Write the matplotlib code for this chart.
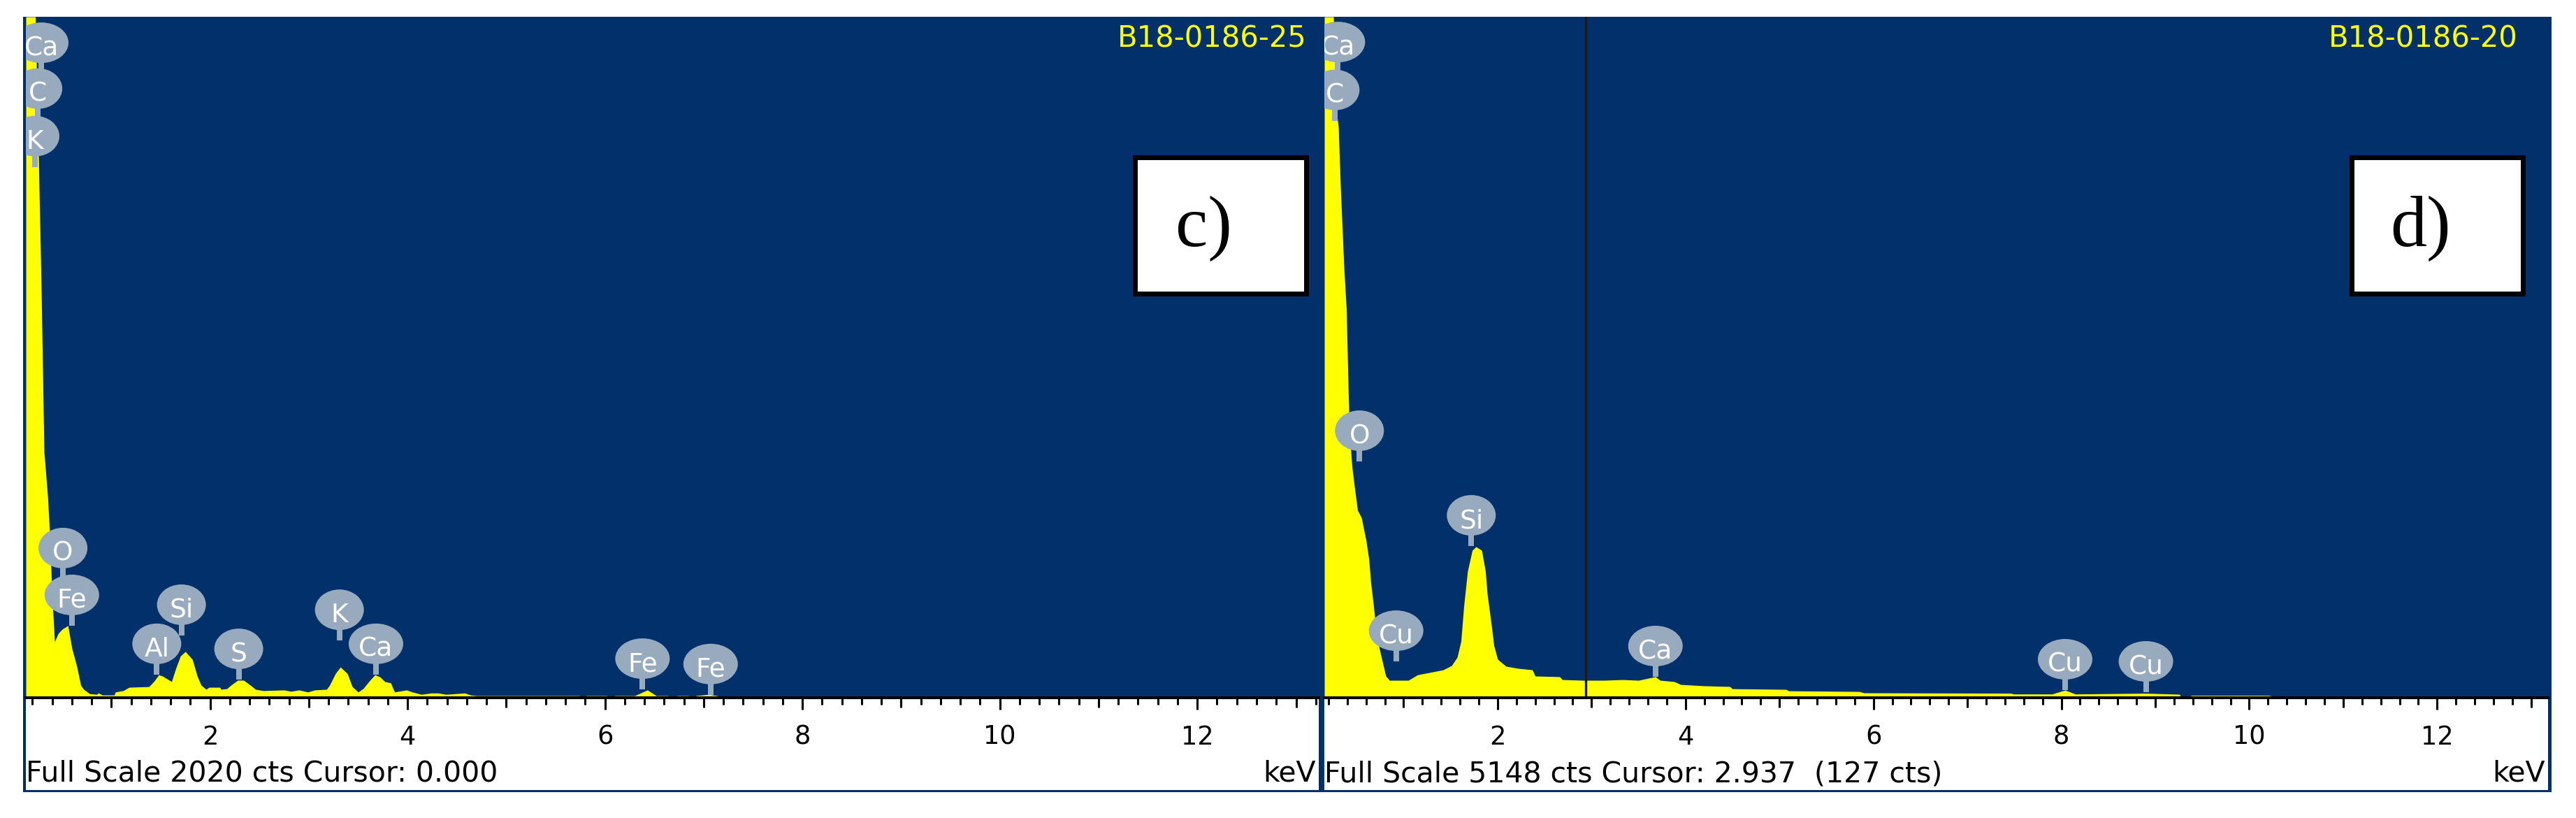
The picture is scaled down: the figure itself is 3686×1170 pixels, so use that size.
import matplotlib
matplotlib.use("Agg")
import matplotlib.pyplot as plt
import matplotlib.transforms as mtrans
from matplotlib.patches import Ellipse, Rectangle
from matplotlib.ticker import FixedLocator, MultipleLocator

# ── Spectrum c) : B18-0186-25, full scale 2020 cts ─────────────────────────
c_energy = [0.134, 0.230, 0.262, 0.290, 0.318, 0.354, 0.373, 0.400, 0.425, 0.460,
            0.500, 0.560, 0.600, 0.650, 0.690, 0.720, 0.780, 0.850, 0.870, 0.910,
            1.030, 1.040, 1.120, 1.180, 1.380, 1.430, 1.480, 1.520, 1.610, 1.650,
            1.700, 1.750, 1.820, 1.870, 1.910, 1.960, 1.990, 2.100, 2.110, 2.170,
            2.210, 2.280, 2.340, 2.410, 2.460, 2.540, 2.750, 2.820, 2.900, 2.990,
            3.060, 3.180, 3.210, 3.270, 3.320, 3.390, 3.440, 3.500, 3.550, 3.620,
            3.670, 3.720, 3.770, 3.830, 3.860, 3.870, 3.990, 4.050, 4.140, 4.240,
            4.310, 4.390, 4.580, 4.640, 4.700, 5.740, 5.750, 5.800, 5.810, 6.020,
            6.030, 6.090, 6.100, 6.300, 6.430, 6.520, 6.640, 6.650, 6.720, 6.730,
            6.850, 6.860, 6.910, 6.920, 7.050, 7.140, 7.150, 7.450, 7.460, 7.660,
            7.670, 7.810, 7.820, 9.000, 9.010, 9.200, 9.210, 10.600, 10.610, 10.800,
            10.810, 11.900, 11.910, 13.230]
c_counts = [2020, 2020, 1600, 1210, 730, 600, 500, 300, 166, 190,
            203, 214, 147, 93, 37, 25, 12, 10, 14, 8,
            8, 17, 21, 31, 33, 48, 68, 64, 48, 85,
            124, 137, 114, 64, 37, 25, 31, 31, 25, 27,
            37, 52, 52, 37, 25, 21, 23, 19, 23, 17,
            23, 25, 37, 72, 91, 72, 33, 17, 27, 52,
            68, 62, 48, 44, 23, 17, 23, 17, 10, 14,
            14, 10, 14, 8, 6, 6, 0, 0, 6, 6,
            0, 0, 6, 6, 23, 6, 6, 0, 0, 6,
            6, 0, 0, 6, 10, 6, 0, 0, 4, 4,
            0, 0, 4, 4, 0, 0, 4, 4, 0, 0,
            4, 4, 0, 0]
c_peak_names = ["Ca", "C", "K", "O", "Fe", "Al", "Si", "S", "K", "Ca", "Fe", "Fe"]
c_peak_energy = [0.29, 0.255, 0.226, 0.51, 0.60, 1.46, 1.71, 2.29, 3.31, 3.68, 6.38, 7.07]
c_label_counts = [1943, 1807, 1666, 444, 305, 160, 276, 145, 261, 160, 116, 100]

# ── Spectrum d) : B18-0186-20, full scale 5148 cts ─────────────────────────
d_energy = [0.156, 0.253, 0.283, 0.305, 0.327, 0.365, 0.390, 0.410, 0.424, 0.450,
            0.480, 0.510, 0.550, 0.600, 0.630, 0.650, 0.680, 0.700, 0.740, 0.780,
            0.810, 0.850, 1.050, 1.150, 1.270, 1.420, 1.510, 1.570, 1.610, 1.640,
            1.680, 1.730, 1.770, 1.830, 1.870, 1.890, 1.930, 1.960, 2.000, 2.090,
            2.220, 2.370, 2.400, 2.660, 2.690, 2.910, 3.130, 3.330, 3.500, 3.680,
            3.730, 3.880, 3.950, 4.200, 4.470, 4.500, 5.070, 5.100, 5.850, 5.900,
            7.460, 7.500, 7.900, 8.040, 8.150, 8.900, 9.260, 9.270, 9.370, 9.380,
            10.200, 10.250, 11.830, 11.840, 13.180]
d_counts = [5148, 5148, 4440, 4320, 3870, 3245, 2940, 2340, 2000, 1749,
            1575, 1416, 1363, 1189, 1046, 872, 692, 555, 375, 254,
            164, 132, 132, 174, 190, 211, 243, 307, 428, 692,
            957, 1115, 1142, 1115, 957, 782, 571, 396, 291, 238,
            222, 211, 164, 159, 137, 132, 132, 137, 132, 159,
            132, 122, 100, 90, 85, 68, 63, 52, 47, 37,
            34, 28, 28, 58, 28, 34, 26, 0, 0, 18,
            18, 12, 12, 0, 0]
d_peak_names = ["Ca", "C", "O", "Cu", "Si", "Ca", "Cu", "Cu"]
d_peak_energy = [0.30, 0.27, 0.53, 0.92, 1.72, 3.68, 8.04, 8.90]
d_label_counts = [4957, 4595, 2019, 507, 1379, 391, 291, 275]
d_cursor = 2.937

tick_labels = ["2", "4", "6", "8", "10", "12"]
major_kev = [2, 4, 6, 8, 10, 12]
odd_kev = [1, 3, 5, 7, 9, 11, 13]

# ── Style ──────────────────────────────────────────────────────────────────
W, H = 3686, 1170
BLUE = "#01306b"
YELLOW = "#ffff00"
BUBBLE = "#98aabd"
WIDE = ("Ca", "Fe", "Cu")


def fx(x):
    return x / W


def fy(y):
    return 1 - y / H


fig = plt.figure(figsize=(W / 100, H / 100), dpi=100)
fig.patch.set_facecolor("white")

# outer blue frame and the white strips under each spectrum
fig.add_artist(Rectangle((fx(33), fy(1133)), (3651 - 33) / W, (1133 - 24) / H,
                         transform=fig.transFigure, fc=BLUE, ec="none", zorder=-2))
for x0, x1 in [(37, 1887), (1895, 3646)]:
    fig.add_artist(Rectangle((fx(x0), fy(1130)), (x1 - x0) / W, (1130 - 998) / H,
                             transform=fig.transFigure, fc="white", ec="none", zorder=-1))


def draw_panel(ax, energy, counts, xlim, full_scale, names, peak_e, label_c):
    ax.set_facecolor(BLUE)
    ax.fill_between(energy, counts, 0, color=YELLOW, lw=0, zorder=2)
    ax.set_xlim(*xlim)
    ax.set_ylim(0, full_scale)
    for side in ("top", "left", "right"):
        ax.spines[side].set_visible(False)
    ax.spines["bottom"].set_color("black")
    ax.spines["bottom"].set_linewidth(2.9)
    ax.spines["bottom"].set_zorder(6)
    ax.set_yticks([])
    ax.xaxis.set_major_locator(FixedLocator(major_kev))
    ax.set_xticklabels(tick_labels)
    ax.xaxis.set_minor_locator(MultipleLocator(0.2))
    ax.tick_params(axis="x", which="major", length=12.2, width=2.2, pad=15,
                   labelsize=26.5, color="black")
    ax.tick_params(axis="x", which="minor", length=7.2, width=2.2, color="black")
    ax.vlines(odd_kev, -14 / 974, 0, transform=ax.get_xaxis_transform(),
              colors="black", lw=2.2, clip_on=False, zorder=6)

    for name, e, c in zip(names, peak_e, label_c):
        w = 78 if name in WIDE else 70
        off = fig.dpi_scale_trans + mtrans.ScaledTranslation(e, c, ax.transData)
        ax.add_patch(Ellipse((0, 0), w / 100, 0.58, transform=off,
                             fc=BUBBLE, ec="none", zorder=4))
        ax.add_patch(Rectangle((-0.04, -0.44), 0.08, 0.18, transform=off,
                               fc=BUBBLE, ec="none", zorder=4))
        ax.annotate(name, (e, c), xytext=(0, -13), textcoords="offset points",
                    ha="center", va="baseline", color="white", fontsize=27,
                    zorder=5, clip_on=True)


ax_c = fig.add_axes([fx(37), fy(998), (1887 - 37) / W, (998 - 24) / H])
draw_panel(ax_c, c_energy, c_counts, (0.134, 13.23), 2020,
           c_peak_names, c_peak_energy, c_label_counts)

ax_d = fig.add_axes([fx(1895), fy(998), (3646 - 1895) / W, (998 - 24) / H])
draw_panel(ax_d, d_energy, d_counts, (0.156, 13.18), 5148,
           d_peak_names, d_peak_energy, d_label_counts)
ax_d.axvline(d_cursor, color="#1c1c1c", lw=2.4, zorder=3)

# sample ids, panel letters and status lines
for x_right, sample in [(1870, "B18-0186-25"), (3603, "B18-0186-20")]:
    fig.text(fx(x_right), fy(68), sample, color=YELLOW, fontsize=30,
             ha="right", va="baseline")

for x0, letter in [(1620, "c)"), (3361, "d)")]:
    fig.add_artist(Rectangle((fx(x0 + 3.5), fy(419.5)), 245 / W, 195 / H,
                             transform=fig.transFigure, fc="white", ec="black",
                             lw=5, zorder=5))
    fig.text(fx(x0 + 103), fy(352), letter, family="Liberation Serif",
             fontsize=75, ha="center", va="baseline", zorder=6)

status = [(37, 1883, "Full Scale 2020 cts Cursor: 0.000"),
          (1895, 3642, "Full Scale 5148 cts Cursor: 2.937  (127 cts)")]
for x_left, x_right, line in status:
    fig.text(fx(x_left), fy(1118), line, fontsize=29.5, ha="left", va="baseline")
    fig.text(fx(x_right), fy(1118), "keV", fontsize=29.5, ha="right", va="baseline")

fig.savefig("out.png", dpi=100)
